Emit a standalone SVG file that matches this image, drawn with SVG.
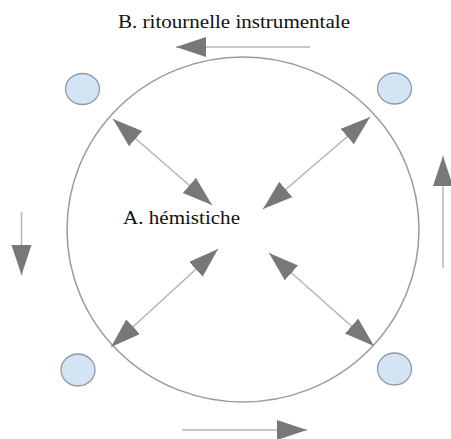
<svg xmlns="http://www.w3.org/2000/svg" width="451" height="439" viewBox="0 0 451 439">
<defs>
<style>
.lbl{font-family:"Liberation Serif","Times New Roman",serif;font-size:19px;fill:#111}
.conn{stroke:#b4b4b4;stroke-width:1.5;fill:none}
.blob{fill:#d3e4f5;stroke:#8e9aa6;stroke-width:1.3}
.ring{fill:none;stroke:#9a9a9a;stroke-width:1.5}
</style>
<marker id="ah" markerUnits="userSpaceOnUse" markerWidth="32" markerHeight="22" refX="30" refY="10" orient="auto-start-reverse" viewBox="0 0 32 22">
<path d="M0,0 L30,10 L0,20 z" fill="#787878"/>
</marker>
</defs>
<rect width="451" height="439" fill="#fff"/>
<g id="circle"><ellipse class="ring" cx="243" cy="229.5" rx="176" ry="172.5"/></g>
<g id="node-tl"><ellipse class="blob" cx="82.5" cy="89" rx="17" ry="15.5"/></g>
<g id="node-tr"><ellipse class="blob" cx="394.5" cy="88.5" rx="17" ry="15.5"/></g>
<g id="node-bl"><ellipse class="blob" cx="78" cy="370" rx="17" ry="16"/></g>
<g id="node-br"><ellipse class="blob" cx="394.5" cy="369" rx="17" ry="16"/></g>
<g id="label-b"><text class="lbl" x="118" y="28" textLength="232" lengthAdjust="spacingAndGlyphs">B. ritournelle instrumentale</text></g>
<g id="label-a"><text class="lbl" x="123" y="224" textLength="117" lengthAdjust="spacingAndGlyphs">A. hémistiche</text></g>
<g id="connectors">
<line class="conn" x1="310" y1="47" x2="176" y2="47" marker-end="url(#ah)"/>
<line class="conn" x1="21.5" y1="212" x2="21.5" y2="275" marker-end="url(#ah)"/>
<line class="conn" x1="443" y1="268" x2="443" y2="156" marker-end="url(#ah)"/>
<line class="conn" x1="182" y1="430" x2="307" y2="430" marker-end="url(#ah)"/>
<line class="conn" x1="113" y1="119" x2="212" y2="205" marker-start="url(#ah)" marker-end="url(#ah)"/>
<line class="conn" x1="370" y1="117" x2="263" y2="209" marker-start="url(#ah)" marker-end="url(#ah)"/>
<line class="conn" x1="111" y1="347" x2="218" y2="249" marker-start="url(#ah)" marker-end="url(#ah)"/>
<line class="conn" x1="374" y1="346" x2="269" y2="253" marker-start="url(#ah)" marker-end="url(#ah)"/>
</g>
</svg>
